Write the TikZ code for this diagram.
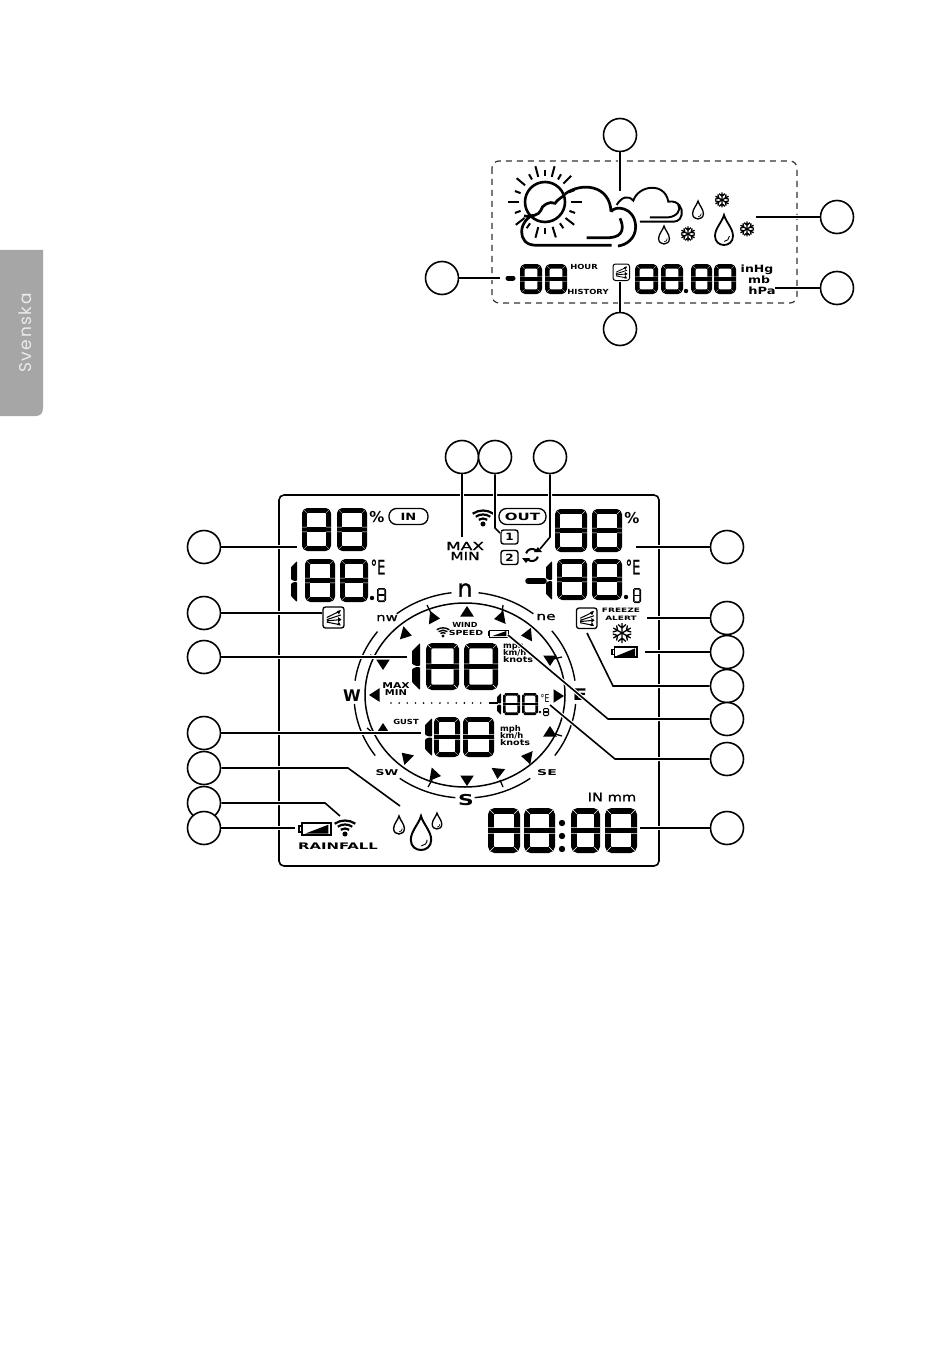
\documentclass[tikz,border=0pt]{standalone}
\usepackage{graphicx}
\usepackage{fontspec}
\usetikzlibrary{calc}
\newfontfamily\lcd{DejaVu Sans}
\newfontfamily\lcdm[FakeBold=0.9]{DejaVu Sans}
\newfontfamily\lcdb{DejaVu Sans Bold}
\newfontfamily\tabfont[LetterSpace=9]{Poppins}
\newcommand\lt[3]{\scalebox{#1}[1]{\fontsize{#2}{#2}\selectfont\lcd #3}}
\newcommand\ltm[3]{\scalebox{#1}[1]{\fontsize{#2}{#2}\selectfont\lcdm #3}}
\newcommand\ltb[3]{\scalebox{#1}[1]{\fontsize{#2}{#2}\selectfont\lcdb #3}}
% seven-segment eight: x1 y1 x2 y2 stroke
\newcommand\segeight[5]{%
  \pgfmathsetmacro\ymid{(#2+#4)/2}%
  \pgfmathsetmacro\gapw{0.07*#5}%
  \pgfmathsetmacro\radw{0.7*#5}%
  \draw[line width=#5pt,rounded corners=\radw pt] ({#1+#5/2},{#2+#5/2}) rectangle ({#3-#5/2},{#4-#5/2});
  \draw[line width=#5pt] ({#1+#5/2},\ymid) -- ({#3-#5/2},\ymid);
  \draw[white,line width=\gapw pt]
    (#1,#2) -- ({#1+#5},{#2+#5}) (#3,#2) -- ({#3-#5},{#2+#5})
    (#1,#4) -- ({#1+#5},{#4-#5}) (#3,#4) -- ({#3-#5},{#4-#5})
    (#1,{\ymid-#5/2}) -- ({#1+#5},{\ymid-#5/2}) (#1,{\ymid+#5/2}) -- ({#1+#5},{\ymid+#5/2})
    (#3,{\ymid-#5/2}) -- ({#3-#5},{\ymid-#5/2}) (#3,{\ymid+#5/2}) -- ({#3-#5},{\ymid+#5/2});
}
% seven-segment one: x1 y1 x2 y2
\newcommand\segone[4]{%
  \pgfmathsetmacro\ymid{(#2+#4)/2}%
  \pgfmathsetmacro\segw{#3-#1}%
  \fill[rounded corners=0.8pt] (#1,{#2+\segw}) -- (#3,#2) -- (#3,{\ymid-0.6}) -- ({#1+0.5*\segw},{\ymid-0.6}) -- (#1,{\ymid-0.25*\segw-0.6}) -- cycle;
  \fill[rounded corners=0.8pt] (#1,{#4-\segw}) -- (#3,#4) -- (#3,{\ymid+0.6}) -- ({#1+0.5*\segw},{\ymid+0.6}) -- (#1,{\ymid+0.25*\segw+0.6}) -- cycle;
}
% triangle marker: x y direction
\newcommand\tri[3]{\fill[shift={(#1,#2)},rotate=#3] (6,0) -- (-4.5,6.8) -- (-4.5,-6.8) -- cycle;}
% tear drop: cx cy half-height line width (tip upward)
\newcommand\dropicon[4]{%
  \begin{scope}[shift={(#1,#2)},x=#3pt,y=#3pt,line width=#4pt]
    \draw (0,1) .. controls (.12,.55) and (.6,.1) .. (.6,-.4) .. controls (.6,-.8) and (.3,-1) .. (0,-1) .. controls (-.3,-1) and (-.6,-.8) .. (-.6,-.4) .. controls (-.6,.1) and (-.12,.55) .. cycle;
    \draw[line width=0.5*#4pt] (.36,-.4) .. controls (.36,-.6) and (.2,-.75) .. (.02,-.76);
  \end{scope}
}
% snowflake: cx cy radius
\newcommand\flake[3]{%
  \foreach \aa in {30,90,150,210,270,330}{
    \draw[shift={(#1,#2)},rotate=\aa,line width=1.3pt] (0,0) -- (#3,0)
      ({.5*#3},0) -- ({.85*#3},{.38*#3}) ({.5*#3},0) -- ({.85*#3},{-.38*#3});
  }
}
% wifi: dot x, dot y, size, line width (arcs above the dot)
\newcommand\wifi[4]{%
  \begin{scope}[shift={(#1,#2)},x=#3pt,y=#3pt,line width=#4pt]
    \fill (0,0) circle [radius=.18];
    \foreach \rr in {.42,.72,1.02}{
      \draw ({-.72*\rr},{.72*\rr}) .. controls ({-.3*\rr},{1.02*\rr}) and ({.3*\rr},{1.02*\rr}) .. ({.72*\rr},{.72*\rr});
    }
  \end{scope}
}
% battery: x1 y1 x2 y2 line width
\newcommand\battery[5]{%
  \pgfmathsetmacro\nibw{0.09*(#3-#1)}%
  \pgfmathsetmacro\bh{#4-#2}%
  \draw[line width=#5pt] ({#1+\nibw},#2) rectangle (#3,#4);
  \draw[line width=#5pt] ({#1+\nibw},{#2+.25*\bh}) -- (#1,{#2+.25*\bh}) -- (#1,{#4-.25*\bh}) -- ({#1+\nibw},{#4-.25*\bh});
  \fill ({#1+2.2*\nibw},{#4-.12*\bh}) -- ({#3-.08*(#3-#1)},{#4-.12*\bh}) -- ({#3-.08*(#3-#1)},{#2+.14*\bh}) -- cycle;
}
% wind icon: x1 y1 size line width
\newcommand\windicon[4]{%
  \draw[line width=#4pt,rounded corners=2.5pt] (#1,#2) rectangle ({#1+#3},{#2+#3});
  \begin{scope}[shift={(#1,#2)},x=#3pt,y=-#3pt,line width=0.8*#4pt]
    \draw (.18,.5) -- (.8,.2) (.18,.6) -- (.85,.38) (.18,.66) -- (.85,.6) (.18,.72) -- (.8,.84);
    \fill (.85,.14) -- (.66,.2) -- (.76,.36) -- cycle;
    \fill (.88,.6) -- (.72,.48) -- (.72,.72) -- cycle;
    \fill (.85,.88) -- (.66,.86) -- (.76,.7) -- cycle;
  \end{scope}
}
\tikzset{
  callout/.style={circle,draw,fill=white,line width=1.6pt,minimum size=33pt,inner sep=0pt},
  conn/.style={line width=1.6pt,preaction={draw=white,line width=4pt}},
  lab/.style={inner sep=0pt,outer sep=0pt},
  pill/.style={draw,rounded corners=7.5pt,line width=1.3pt,inner sep=0pt,minimum height=16pt},
  numbox/.style={draw,rounded corners=2.5pt,line width=1.4pt,inner sep=0pt,minimum width=17pt,minimum height=14pt},
}
\begin{document}
\begin{tikzpicture}[x=1pt,y=-1pt]
\useasboundingbox (0,0) rectangle (950,1348);
\fill[white] (0,0) rectangle (950,1348);
% side tab
\fill[fill=black!35!white] (0,250) -- (43,250) -- (43,408) .. controls (43,414) and (40,416) .. (35,416) -- (0,416) -- cycle;
\node[lab,rotate=90,text=white!92!black] (tablabel) at (25,333) {\fontsize{17}{17}\selectfont\tabfont Svenska};

% ---------- callout circles
\node[callout] (c1) at (620,135) {};
\node[callout] (c2) at (837,217) {};
\node[callout] (c3) at (837,288) {};
\node[callout] (c4) at (620,329) {};
\node[callout] (c5) at (442,278) {};
\node[callout] (t1) at (462,457) {};
\node[callout] (t2) at (495,457) {};
\node[callout] (t3) at (550,457) {};
\node[callout] (r1) at (727,547) {};
\node[callout] (r2) at (727,618) {};
\node[callout] (r3) at (727,652) {};
\node[callout] (r4) at (727,686) {};
\node[callout] (r5) at (727,719) {};
\node[callout] (r6) at (727,759) {};
\node[callout] (r7) at (727,828) {};
\node[callout] (l1) at (204,547) {};
\node[callout] (l2) at (204,613) {};
\node[callout] (l3) at (204,657) {};
\node[callout] (l4) at (204,733) {};
\node[callout] (l5) at (204,768) {};
\node[callout] (l6) at (204,803) {};
\node[callout] (l7) at (204,828) {};

% ---------- weather panel
\draw[line width=1.2pt,black!80,dash pattern=on 6pt off 5pt,rounded corners=7pt] (492,161) rectangle (797,303);
% sun
\draw[line width=2.6pt] (545,202) circle [radius=20];
\foreach \a/\o in {0/37,22/32,45/37,60/32,75/37,90/32,105/37,120/32,140/37,160/32,180/37,200/32,218/37,235/32,255/37,270/32,287/37,305/32,322/37,340/32}{
  \draw[line width=2pt] ({545+26*cos(\a)},{202-26*sin(\a)}) -- ({545+\o*cos(\a)},{202-\o*sin(\a)});
}
% big cloud (coordinates of a 3x crop)
\begin{scope}[shift={(500,170)},x=.3333pt,y=-.3333pt,line width=2.7pt]
  \draw (195,72) .. controls (245,35) and (330,45) .. (333,125);
  \draw (333,125) .. controls (345,105) and (405,110) .. (407,170) .. controls (407,205) and (380,225) .. (354,228);
  \draw (335,226) -- (110,226) .. controls (75,226) and (65,205) .. (65,185) .. controls (65,160) and (85,140) .. (100,135);
  \draw (72,138) .. controls (90,142) and (118,135) .. (122,122) .. controls (125,105) and (150,92) .. (165,100) .. controls (175,85) and (185,85) .. (195,72);
  \draw (260,203) -- (330,203) .. controls (372,200) and (372,170) .. (360,145);
\end{scope}
% small cloud
\begin{scope}[shift={(420,110)},x=.3333pt,y=-.3333pt,line width=1.9pt]
  \draw (590,285) .. controls (605,260) and (625,255) .. (640,272) .. controls (655,225) and (735,215) .. (745,275) .. controls (775,270) and (790,295) .. (785,315) .. controls (780,335) and (765,336) .. (750,335) -- (660,335);
  \draw (690,322) -- (745,322) .. controls (770,320) and (785,300) .. (775,285);
\end{scope}
\dropicon{698}{210}{9}{1.3}
\dropicon{664}{235}{9}{1.3}
\dropicon{724}{230}{15}{1.8}
\flake{722}{200}{7.5}
\flake{688}{234}{7.5}
\flake{747}{229}{7.5}
% bottom row of weather panel
\draw[line width=5pt,line cap=round] (508,278) -- (513,278);
\segeight{520}{264}{542}{294}{4.6}
\segeight{545}{264}{567}{294}{4.6}
\node[lab] (thour) at (584,267) {\ltb{1.2}{7}{HOUR}};
\node[lab] (thist) at (588,292) {\ltb{1.2}{7}{HISTORY}};
\windicon{613}{264}{16.5}{1}
\segeight{635}{264}{658}{294}{4.6}
\segeight{661}{264}{683}{294}{4.6}
\fill (686,291) circle [radius=2.2];
\segeight{691}{264}{712}{294}{4.6}
\segeight{714}{264}{736}{294}{4.6}
\node[lab] (tinhg) at (757,270) {\ltb{1.25}{10}{inHg}};
\node[lab] (tmb) at (759,280) {\ltb{1.25}{10}{mb}};
\node[lab] (thpa) at (762,291) {\ltb{1.3}{10}{hPa}};

% ---------- main panel
\draw[line width=1.6pt,rounded corners=5pt] (279,495) rectangle (659,866);
% indoor
\segeight{302}{508}{331}{551}{4.8}
\segeight{337}{508}{367}{551}{4.8}
\node[lab] (tpct1) at (377,517) {\ltb{1}{15}{\%}};
\node[pill,minimum width=39pt] (pin) at (408.5,516.5) {\ltb{1.3}{10}{IN}};
\segone{291}{561}{297}{602}
\segeight{305}{559}{335}{602}{4.8}
\segeight{340}{559}{368}{602}{4.8}
\node[lab] (tdeg1) at (378,567) {\ltm{.65}{20}{°E}};
\fill (372,598) circle [radius=2.2];
\segeight{377}{588}{386}{602}{1.7}
\windicon{323}{607}{21}{1.3}
% outdoor
\wifi{483}{524}{14}{2.2}
\node[pill,minimum width=47pt] (pout) at (522.5,516.5) {\ltb{1.5}{10}{OUT}};
\node[numbox] (n1) at (509.5,537) {\ltb{1.2}{10}{1}};
\node[numbox] (n2) at (509.5,557.5) {\ltb{1.2}{10}{2}};
\node[lab] (tmax1) at (465,546) {\ltm{1.55}{11}{MAX}};
\node[lab] (tmin1) at (465,556) {\ltm{1.4}{11}{MIN}};
% refresh symbol
\draw[line width=2pt,domain=35:165,samples=14,smooth,variable=\t] plot ({532+6*cos(\t)},{555-6*sin(\t)});
\draw[line width=2pt,domain=215:345,samples=14,smooth,variable=\t] plot ({532+6*cos(\t)},{555-6*sin(\t)});
\fill (542,552) -- (534,552) -- (538,547) -- cycle;
\fill (522,558) -- (530,558) -- (526,563) -- cycle;
\segeight{555}{509}{587}{552}{4.8}
\segeight{592}{509}{622}{552}{4.8}
\node[lab] (tpct2) at (632,518) {\ltb{1}{15}{\%}};
\draw[line width=5.5pt,line cap=round] (528,581) -- (544,581);
\segone{546}{561}{552}{600}
\segeight{557}{559}{587}{600}{4.8}
\segeight{592}{559}{622}{600}{4.8}
\node[lab] (tdeg2) at (633,567) {\ltm{.65}{20}{°E}};
\fill (626,597) circle [radius=2.2];
\segeight{633}{588}{641}{603}{1.7}
\windicon{576.5}{608}{20.5}{1.3}
\node[lab] (tfree) at (621,610) {\ltb{1.5}{6}{FREEZE}};
\node[lab] (talert) at (621,618) {\ltb{1.5}{6}{ALERT}};
\flake{622}{633}{10}
\battery{612}{647}{637}{657}{1.2}

% compass
\draw[line width=1.5pt] (465,695) ellipse [x radius=100,y radius=92];
\foreach \a/\b in {52/83,8/38.5,-36/-5,-85/-54,97/128,142/172,185/216,234/265}{
  \draw[line width=1.4pt,domain=\a:\b,samples=25,smooth,variable=\t] plot ({465+111*cos(\t)},{695-103*sin(\t)});
}
\foreach \p/\q/\u/\v in {503/605/502/613, 427/605/431/613, 562/657/553/659, 562/736/555/734, 503/787/500/780, 428/787/432/780, 367/728/372/732, 370/655/376/657}{
  \draw[line width=1.3pt] (\p,\q) -- (\u,\v);
}
\tri{467}{612}{90}
\tri{500}{618}{190}
\tri{527}{635}{185}
\tri{550}{660}{270}
\tri{558}{696}{0}
\tri{550}{732}{90}
\tri{527}{757}{170}
\tri{498}{773}{265}
\tri{467}{780}{270}
\tri{435}{775}{-10}
\tri{406}{757}{135}
\tri{383}{729}{90}
\tri{375}{695}{180}
\tri{383}{664}{270}
\tri{406}{634}{-15}
\tri{434}{618}{-5}
\node[lab] (cn) at (465,590) {\ltm{1}{24}{n}};
\node[lab] (cne) at (546,617) {\ltm{1.4}{11}{ne}};
\node[lab] (ce) at (580,695) {\ltb{1.35}{16}{E}};
\node[lab] (cse) at (547,773) {\ltb{1.75}{8}{SE}};
\node[lab] (cs) at (466,800) {\ltb{1.45}{15}{S}};
\node[lab] (csw) at (387,773) {\ltb{1.55}{8}{SW}};
\node[lab] (cw) at (352,696) {\ltb{1}{16}{W}};
\node[lab] (cnw) at (387,618) {\ltm{1.35}{11}{nw}};
% wind speed block
\wifi{443}{636}{8.5}{1.4}
\node[lab] (twind) at (465,625) {\ltb{1.15}{7}{WIND}};
\node[lab] (tspeed) at (466,633) {\ltb{1.35}{7}{SPEED}};
\battery{488}{630}{508}{637}{1}
\segone{412}{643}{420}{690}
\segeight{426}{643}{459}{690}{5.3}
\segeight{464}{643}{498}{690}{5.3}
\node[lab,anchor=west] (tmph1) at (503,646) {\ltb{1.05}{8}{mph}};
\node[lab,anchor=west] (tkmh1) at (503,653) {\ltb{1.05}{8}{km/h}};
\node[lab,anchor=west] (tkn1) at (503,660) {\ltb{1.2}{8}{knots}};
\node[lab] (tmax2) at (396,686) {\ltb{1.35}{8}{MAX}};
\node[lab] (tmin2) at (396,692.5) {\ltb{1.25}{8}{MIN}};
\foreach \i in {0,...,11}{ \fill ({391+8.15*\i},703) circle [radius=.9]; }
\draw[line width=2.5pt] (489,703) -- (498,703);
\segone{497}{693}{501}{715}
\segeight{503}{693}{520}{715}{2.6}
\segeight{522}{693}{538}{715}{2.6}
\node[lab] (tdeg3) at (545,698) {\lt{.7}{11}{°E}};
\fill (540,712) circle [radius=1.3];
\segeight{543}{708}{549}{716}{1.1}
\node[lab] (tgust) at (406,722) {\ltb{1.2}{7}{GUST}};
\segone{425}{718}{432}{756}
\segeight{434}{717}{460}{757}{4.8}
\segeight{463}{717}{494}{757}{4.8}
\node[lab,anchor=west] (tmph2) at (500,729) {\ltb{1.05}{8}{mph}};
\node[lab,anchor=west] (tkmh2) at (500,736) {\ltb{1.05}{8}{km/h}};
\node[lab,anchor=west] (tkn2) at (500,743) {\ltb{1.2}{8}{knots}};
% rain
\dropicon{399}{825}{9}{1.4}
\dropicon{421}{833}{17}{2}
\dropicon{437}{821}{8}{1.3}
\battery{299}{823}{331}{835}{1.4}
\wifi{345}{834}{14}{2.2}
\node[lab] (train) at (338,846) {\ltb{1.65}{9}{RAINFALL}};
\node[lab] (tinmm) at (612,797) {\ltm{1.22}{12}{IN mm}};
\segeight{488}{808}{520}{853}{5.8}
\segeight{524}{808}{555}{853}{5.8}
\fill (562,823) circle [radius=3.2] (562,836) circle [radius=3.2] (562,849) circle [radius=3.2];
\segeight{571}{808}{600}{853}{5.8}
\segeight{605}{808}{637}{853}{5.8}

% ---------- connector ends and bends
\coordinate (ec1) at (620,191);
\coordinate (ec2) at (756,217);
\coordinate (ec3) at (775,288);
\coordinate (ec4) at (620,282);
\coordinate (ec5) at (500,278);
\coordinate (et1) at (462,537);
\coordinate (bt2) at (495,528);
\coordinate (et2) at (500,533);
\coordinate (bt3) at (550,537);
\coordinate (et3) at (540,549);
\coordinate (er1) at (636,547);
\coordinate (er2) at (647,618);
\coordinate (er3) at (645,652);
\coordinate (br4) at (613,686);
\coordinate (er4) at (587,633);
\coordinate (br5) at (608,719);
\coordinate (er5) at (508,635);
\coordinate (br6) at (615,759);
\coordinate (er6) at (550,705);
\coordinate (er7) at (640,828);
\coordinate (el1) at (297,547);
\coordinate (el2) at (322,613);
\coordinate (el3) at (407,657);
\coordinate (el4) at (421,733);
\coordinate (bl5) at (348,768);
\coordinate (el5) at (400,806);
\coordinate (bl6) at (325,803);
\coordinate (el6) at (340,816);
\coordinate (el7) at (295,828);
\draw[conn] (c1) -- (ec1);
\draw[conn] (c2) -- (ec2);
\draw[conn] (c3) -- (ec3);
\draw[conn] (c4) -- (ec4);
\draw[conn] (c5) -- (ec5);
\draw[conn] (t1) -- (et1);
\draw[conn] (t2) -- (bt2) -- (et2);
\draw[conn] (t3) -- (bt3) -- (et3);
\draw[conn] (r1) -- (er1);
\draw[conn] (r2) -- (er2);
\draw[conn] (r3) -- (er3);
\draw[conn] (r4) -- (br4) -- (er4);
\draw[conn] (r5) -- (br5) -- (er5);
\draw[conn] (r6) -- (br6) -- (er6);
\draw[conn] (r7) -- (er7);
\draw[conn] (l1) -- (el1);
\draw[conn] (l2) -- (el2);
\draw[conn] (l3) -- (el3);
\draw[conn] (l4) -- (el4);
\draw[conn] (l5) -- (bl5) -- (el5);
\draw[conn] (l6) -- (bl6) -- (el6);
\draw[conn] (l7) -- (el7);
\end{tikzpicture}
\end{document}
